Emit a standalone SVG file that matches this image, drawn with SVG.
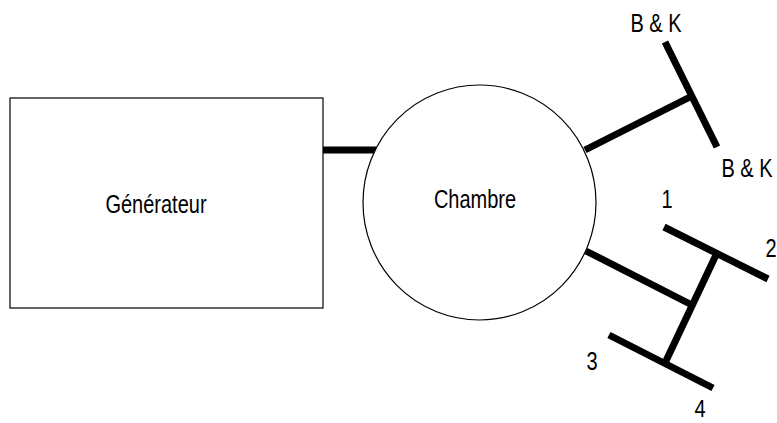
<svg xmlns="http://www.w3.org/2000/svg" width="777" height="423" viewBox="0 0 777 423">
<style>
.shape{fill:#fff;stroke:#000;stroke-width:1.2}
.bar{stroke:#000;stroke-width:7;stroke-linecap:butt;fill:none}
.t{font-family:"Liberation Sans",Arial,sans-serif;font-size:20px;fill:#000}
</style>
<rect width="777" height="423" fill="#fff"/>
<g id="connectors">
<line class="bar" x1="323" y1="150" x2="377" y2="150"/>
<line class="bar" x1="585" y1="150" x2="690" y2="97"/>
<line class="bar" x1="665" y1="42" x2="717" y2="147"/>
<line class="bar" x1="586" y1="251" x2="690" y2="304"/>
<line class="bar" x1="664" y1="227" x2="768" y2="279"/>
<line class="bar" x1="609" y1="335" x2="713" y2="388"/>
<line class="bar" x1="716" y1="255" x2="665" y2="363"/>
</g>
<g id="generateur">
<rect class="shape" x="10" y="98" width="313" height="210"/>
<text class="t" transform="translate(156,213) scale(1,1.25)" text-anchor="middle">Générateur</text>
</g>
<g id="chambre">
<ellipse class="shape" cx="479.5" cy="202.5" rx="116.5" ry="117.5"/>
<text class="t" transform="translate(475,208) scale(1,1.25)" text-anchor="middle">Chambre</text>
</g>
<g id="labels">
<text class="t" transform="translate(656,32) scale(1,1.25)" text-anchor="middle">B &amp; K</text>
<text class="t" transform="translate(747,177) scale(1,1.25)" text-anchor="middle">B &amp; K</text>
<text class="t" transform="translate(667,208) scale(1,1.25)" text-anchor="middle">1</text>
<text class="t" transform="translate(771,257) scale(1,1.25)" text-anchor="middle">2</text>
<text class="t" transform="translate(592,370) scale(1,1.25)" text-anchor="middle">3</text>
<text class="t" transform="translate(700,417) scale(1,1.2)" text-anchor="middle">4</text>
</g>
</svg>
